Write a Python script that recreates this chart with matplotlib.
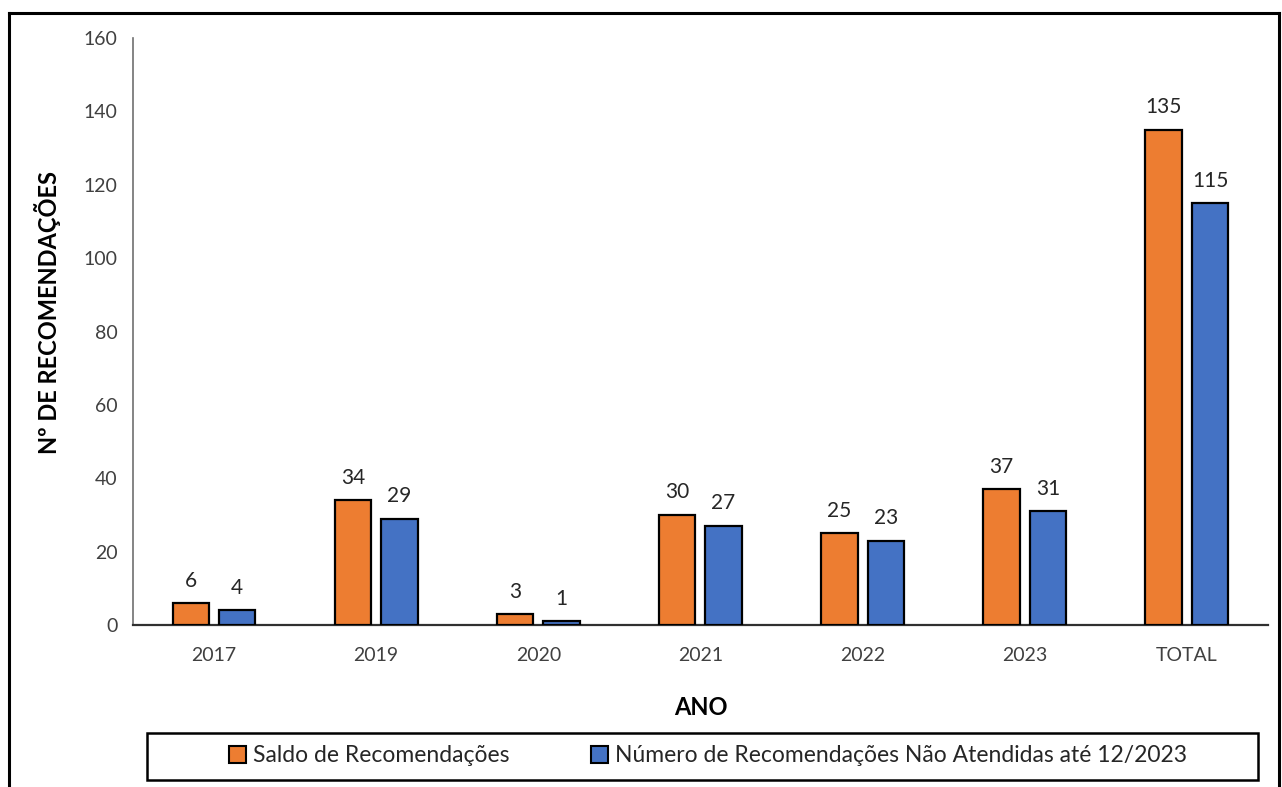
import matplotlib
matplotlib.use("Agg")
import matplotlib.pyplot as plt
from matplotlib.lines import Line2D
from matplotlib.patches import Rectangle
import numpy as np

categories = ["2017", "2019", "2020", "2021", "2022", "2023", "TOTAL"]
saldo = [6, 34, 3, 30, 25, 37, 135]
nao_atendidas = [4, 29, 1, 27, 23, 31, 115]
series_names = ["Saldo de Recomendações",
                "Número de Recomendações Não Atendidas até 12/2023"]
y_ticks = [0, 20, 40, 60, 80, 100, 120, 140, 160]

plt.rcParams["font.family"] = ["Lato", "DejaVu Sans"]

W, H = 1282, 787
fig = plt.figure(figsize=(W / 100, H / 100), dpi=100)
ax = fig.add_axes([0.1037, 0.2058, 0.8853, 0.7459])

x = np.arange(len(categories))
w = 0.225
off = 0.143
orange = "#ED7D31"
blue = "#4472C4"

b1 = ax.bar(x - off, saldo, w, color=orange, edgecolor="black", linewidth=1.6,
            label=series_names[0], zorder=3)
b2 = ax.bar(x + off, nao_atendidas, w, color=blue, edgecolor="black", linewidth=1.6,
            label=series_names[1], zorder=3)

for bars in (b1, b2):
    ax.bar_label(bars, labels=[str(v) for v in bars.datavalues], padding=9,
                 fontsize=15, color="#262626")

ax.set_xlim(-0.5, len(categories) - 0.5)
ax.set_ylim(0, 160)
ax.set_yticks(y_ticks)
ax.set_xticks(x)
ax.set_xticklabels(categories)
ax.tick_params(axis="both", length=0, labelsize=14, colors="#404040")
ax.tick_params(axis="y", pad=11)
ax.tick_params(axis="x", pad=16)

for s in ("top", "right"):
    ax.spines[s].set_visible(False)
ax.spines["left"].set_color("#707070")
ax.spines["left"].set_linewidth(1.2)
ax.spines["bottom"].set_color("#303030")
ax.spines["bottom"].set_linewidth(1.6)

ax.set_ylabel("Nº DE RECOMENDAÇÕES", fontsize=17, fontweight="bold", color="black")
ax.yaxis.set_label_coords(-0.0634, 0.533)
ax.set_xlabel("ANO", fontsize=17, fontweight="bold", color="black", labelpad=23)

handles = [Rectangle((0, 0), 1, 1, facecolor=orange, edgecolor="black", linewidth=1.5),
           Rectangle((0, 0), 1, 1, facecolor=blue, edgecolor="black", linewidth=1.5)]
leg = fig.legend(handles, series_names, loc="center",
                 bbox_to_anchor=(708 / W, 1 - 756 / H),
                 ncol=2, fontsize=16.5, frameon=False,
                 handlelength=0.75, handleheight=0.75, handletextpad=0.3,
                 columnspacing=3.55)
for t in leg.get_texts():
    t.set_color("#262626")

# legend box
fig.add_artist(Rectangle((147 / W, 1 - 780 / H), (1258 - 147) / W, 47 / H,
                         transform=fig.transFigure, facecolor="none",
                         edgecolor="black", linewidth=1.8))

# outer frame of the figure
fx0, fx1, fy1 = 9 / W, 1279 / W, 1 - 13 / H
for xs, ys in (([fx0, fx0], [0, fy1]), ([fx0, fx1], [fy1, fy1]), ([fx1, fx1], [fy1, 0])):
    fig.add_artist(Line2D(xs, ys, transform=fig.transFigure, color="black", linewidth=2.2))

fig.savefig("out.png", dpi=100)
